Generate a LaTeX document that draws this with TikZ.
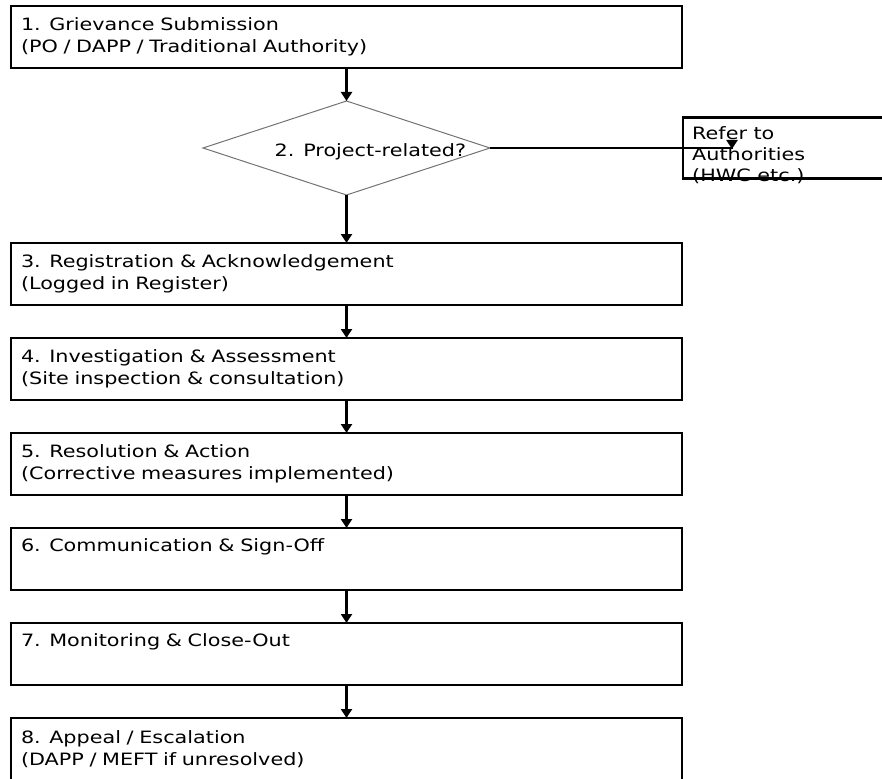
\documentclass[tikz,border=0pt]{standalone}
\usepackage{fontspec}
\setmainfont[FakeStretch=1.22]{DejaVu Sans}
\usetikzlibrary{positioning, shapes.geometric, arrows.meta}

\begin{document}
\begin{tikzpicture}[
         x=1pt, y=-1pt,
         node distance=33pt,
         font=\fontsize{17}{21.5}\selectfont,
         stage/.style={draw, line width=2.8pt, outer sep=0pt, inner xsep=10pt, text width=651pt, minimum height=62pt, align=left},
         decision/.style={diamond, draw=black!55, line width=1pt, outer sep=0pt, inner sep=0pt, minimum width=287pt, minimum height=94pt},
         referbox/.style={draw, line width=2.2pt, outer sep=0pt, minimum width=240pt, minimum height=61pt},
         flow/.style={-{Triangle[width=11pt,length=9pt]}, line width=2.2pt}
      ]
         \clip (0,0) rectangle (882,778);

         % Nodes for the process stages
         \node[stage, anchor=north] (s1) at (346.5,6) {1. Grievance Submission\\(PO / DAPP / Traditional Authority)};
         \node[decision] (d2) [below=of s1] {};
         \node[anchor=base west, inner sep=0pt] (d2txt) at ([xshift=-72pt, yshift=-9pt]d2.center) {2. Project-related?};
         \node[stage] (s3) [below=48pt of d2] {3. Registration \& Acknowledgement\\(Logged in Register)};
         \node[stage] (s4) [below=of s3] {4. Investigation \& Assessment\\(Site inspection \& consultation)};
         \node[stage] (s5) [below=of s4] {5. Resolution \& Action\\(Corrective measures implemented)};
         \node[stage] (s6) [below=of s5] {6. Communication \& Sign-Off\\\strut};
         \node[stage] (s7) [below=of s6] {7. Monitoring \& Close-Out\\\strut};
         \node[stage] (s8) [below=of s7] {8. Appeal / Escalation\\(DAPP / MEFT if unresolved)};

         % Side branch
         \node[referbox] (ref) [right=193pt of d2] {};
         \node[anchor=north west, inner xsep=9pt, inner ysep=9pt, align=left, font=\fontsize{17}{21}\selectfont] (reftxt) at (ref.north west) {Refer to\\Authorities\\(HWC etc.)};
         \coordinate (hit) at ([xshift=49pt]ref.west);

         % Arrows
         \draw[flow] (s1.south) -- (d2.north);
         \draw[flow] (d2.south) -- (s3.north);
         \draw[flow] (s3.south) -- (s4.north);
         \draw[flow] (s4.south) -- (s5.north);
         \draw[flow] (s5.south) -- (s6.north);
         \draw[flow] (s6.south) -- (s7.north);
         \draw[flow] (s7.south) -- (s8.north);
         \draw[flow] (d2.east) -| ([yshift=-1pt]hit);
      \end{tikzpicture}
\end{document}
